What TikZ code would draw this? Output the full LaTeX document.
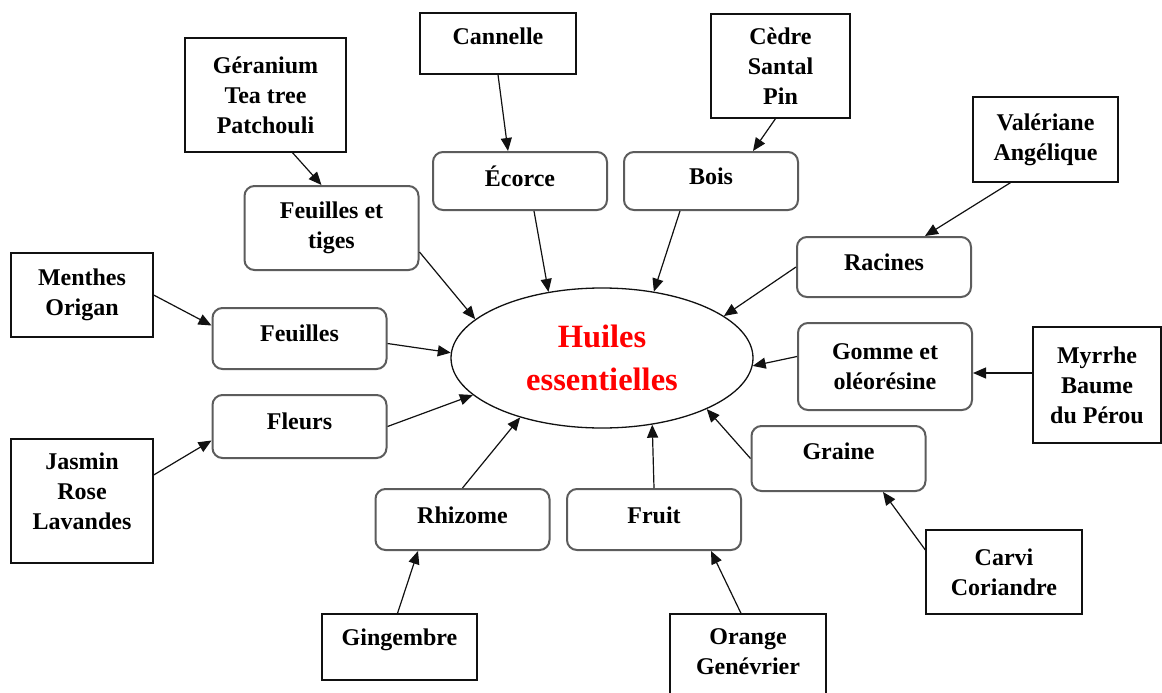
\documentclass[tikz,border=0pt]{standalone}
\usepackage{fontspec}
\setmainfont{Liberation Serif}
\usetikzlibrary{arrows.meta,shapes.geometric}
\definecolor{Ink}{HTML}{111111}
\definecolor{FrameGray}{HTML}{5C5C5C}
\definecolor{TitleRed}{HTML}{FF0000}
\tikzset{
  plantBox/.style={rectangle,draw=Ink,line width=1.3pt,fill=white,align=center,
    font=\bfseries\fontsize{24}{30}\selectfont,inner sep=0pt},
  partBox/.style={rectangle,rounded corners=10pt,draw=FrameGray,line width=2pt,fill=white,
    align=center,minimum width=174pt,font=\bfseries\fontsize{24}{30}\selectfont,inner sep=0pt},
  hubOval/.style={ellipse,draw=Ink,line width=1.3pt,fill=white,minimum width=302pt,
    minimum height=140pt,inner sep=0pt,align=center,text=TitleRed,
    font=\bfseries\fontsize{32.5}{43}\selectfont},
  feed/.style={-{Triangle[length=13pt,width=11pt]},draw=Ink,line width=1.2pt}
}

\begin{document}
\begin{tikzpicture}[x=1pt,y=-1pt]
  \clip (0,0) rectangle (1162,693);
  \fill[white] (0,0) rectangle (1162,693);

  % Central oval
  \node[hubOval] (hub) at (602,358) {Huiles\\essentielles};

  % Plant parts
  \node[partBox,minimum height=84pt] (tiges) at (331.5,228) {Feuilles et\\tiges};
  \node[partBox,minimum height=58pt,text depth=9pt] (ecorce) at (520,181) {Écorce};
  \node[partBox,minimum height=58pt,text depth=9pt] (bois) at (711,181) {Bois};
  \node[partBox,minimum height=60pt,text depth=9pt] (racines) at (884,267) {Racines};
  \node[partBox,minimum height=87pt] (gomme) at (885,366.5) {Gomme et\\oléorésine};
  \node[partBox,minimum height=65pt,text depth=14pt] (graine) at (838.5,458.5) {Graine};
  \node[partBox,minimum height=61pt,text depth=8pt] (fruit) at (654,519.5) {Fruit};
  \node[partBox,minimum height=61pt,text depth=8pt] (rhizome) at (462.5,519.5) {Rhizome};
  \node[partBox,minimum height=63pt,text depth=10pt] (fleurs) at (299.5,426.5) {Fleurs};
  \node[partBox,minimum height=61pt,text depth=10pt] (feuilles) at (299.5,338.5) {Feuilles};

  % Example plants
  \node[plantBox,minimum width=161pt,minimum height=114pt] (geranium) at (265.5,95) {Géranium\\Tea tree\\Patchouli};
  \node[plantBox,minimum width=156pt,minimum height=61pt,text depth=14pt] (cannelle) at (498,43.5) {Cannelle};
  \node[plantBox,minimum width=139pt,minimum height=104pt] (cedre) at (780.5,66) {Cèdre\\Santal\\Pin};
  \node[plantBox,minimum width=145pt,minimum height=85pt] (valeriane) at (1045.5,139.5) {Valériane\\Angélique};
  \node[plantBox,minimum width=142pt,minimum height=84pt] (menthes) at (82,295) {Menthes\\Origan};
  \node[plantBox,minimum width=142pt,minimum height=124pt,text depth=19pt] (jasmin) at (82,501) {Jasmin\\Rose\\Lavandes};
  \node[plantBox,minimum width=128pt,minimum height=116pt] (myrrhe) at (1097,385) {Myrrhe\\Baume\\du Pérou};
  \node[plantBox,minimum width=156pt,minimum height=84pt] (carvi) at (1004,572) {Carvi\\Coriandre};
  \node[plantBox,minimum width=155pt,minimum height=66pt,text depth=19pt] (gingembre) at (399.5,647) {Gingembre};
  \node[plantBox,minimum width=156pt,minimum height=96pt,text depth=21pt] (orange) at (748,662) {Orange\\Genévrier};

  % Parts into the oval
  \draw[feed] ([yshift=-24pt]tiges.east) -- (hub.163);
  \draw[feed] ([xshift=14pt]ecorce.south) -- (hub.129);
  \draw[feed] ([xshift=-31pt]bois.south) -- (hub.52);
  \draw[feed] (racines.west) -- (hub.19);
  \draw[feed] ([yshift=10pt]gomme.west) -- (hub.-3);
  \draw[feed] (graine.west) -- (hub.-26);
  \draw[feed] (fruit.north) -- (hub.-53);
  \draw[feed] (rhizome.north) -- (hub.216);
  \draw[feed] (fleurs.east) -- (hub.196);
  \draw[feed] ([yshift=-5pt]feuilles.east) -- (hub.178);

  % Plants into their parts
  \draw[feed] ([xshift=27pt]geranium.south) -- ([xshift=-10pt]tiges.north);
  \draw[feed] (cannelle.south) -- ([xshift=-12pt]ecorce.north);
  \draw[feed] ([xshift=-5pt]cedre.south) -- ([xshift=42pt]bois.north);
  \draw[feed] ([xshift=-35pt]valeriane.south) -- ([xshift=41pt]racines.north);
  \draw[feed] (menthes.east) -- ([yshift=13pt]feuilles.west);
  \draw[feed] ([yshift=26pt]jasmin.east) -- ([yshift=-14pt]fleurs.west);
  \draw[feed] ([yshift=12pt]myrrhe.west) -- ([yshift=-6.5pt]gomme.east);
  \draw[feed] ([yshift=22pt]carvi.west) -- ([xshift=44.5pt]graine.south);
  \draw[feed] ([xshift=-2pt]gingembre.north) -- ([xshift=-44.5pt]rhizome.south);
  \draw[feed] ([xshift=-7pt]orange.north) -- ([xshift=57pt]fruit.south);
\end{tikzpicture}
\end{document}
